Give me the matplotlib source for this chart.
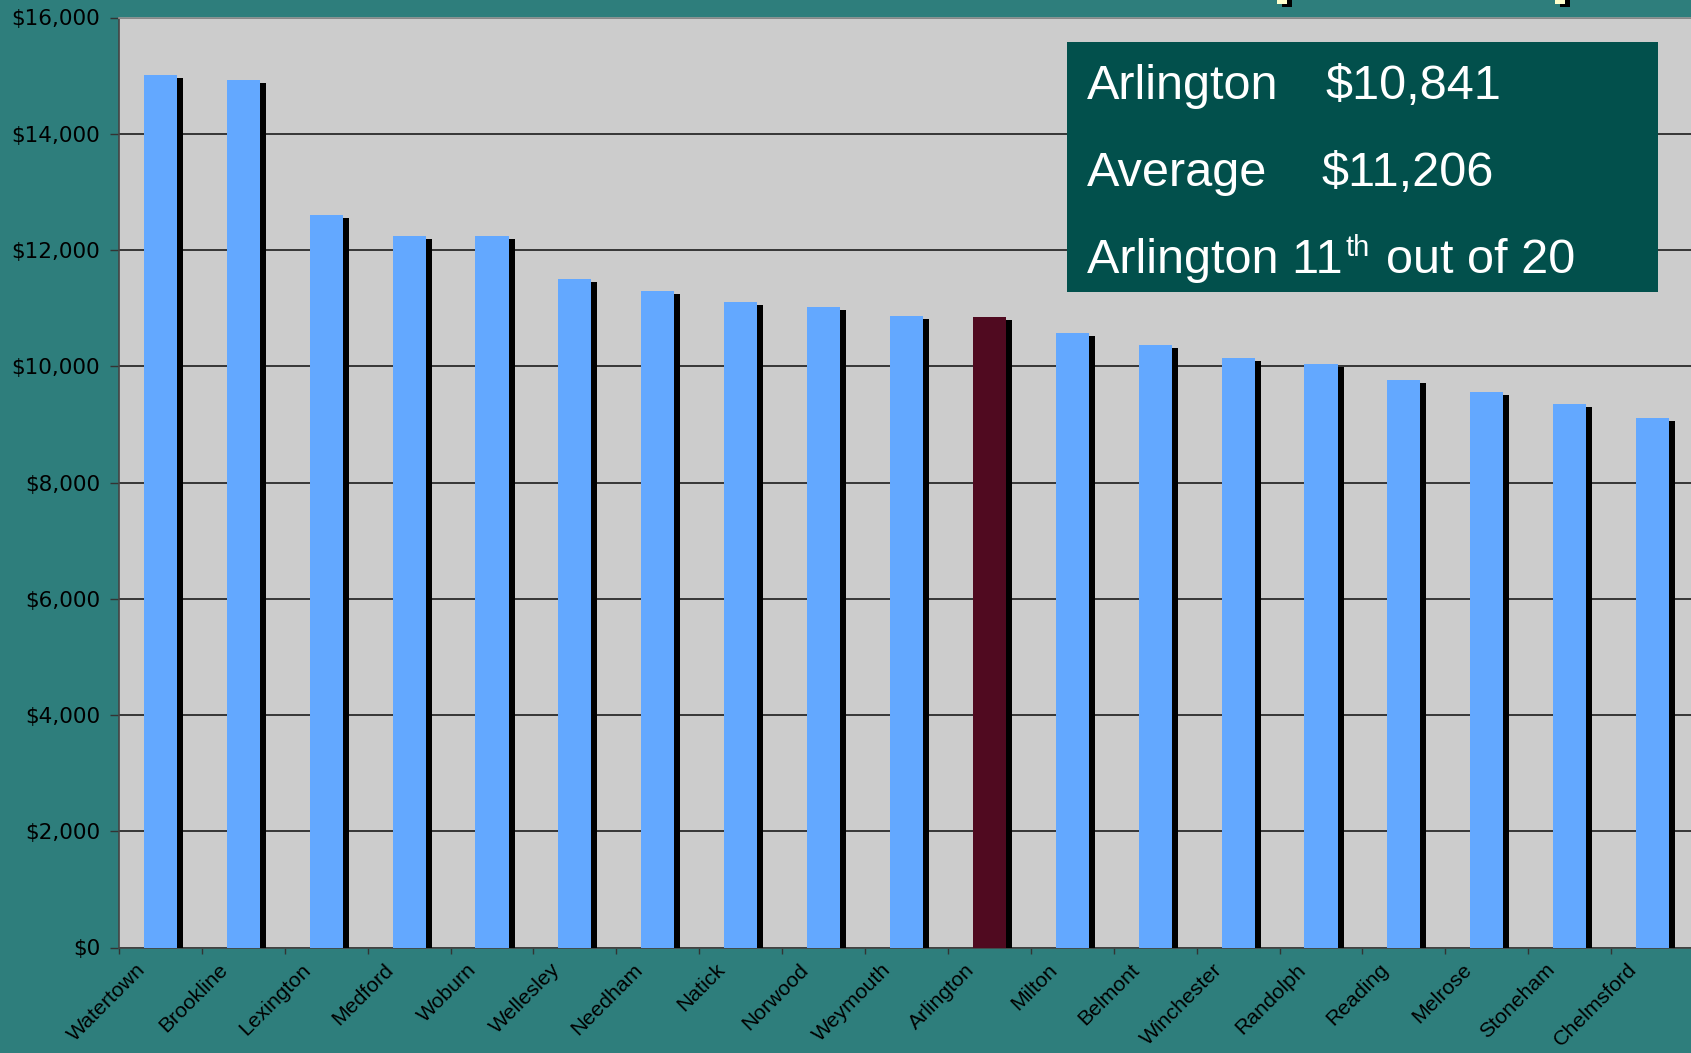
import numpy as np
import matplotlib
matplotlib.use("Agg")
import matplotlib.pyplot as plt
import matplotlib.patheffects as pe
from matplotlib.patches import Rectangle
from matplotlib.ticker import FuncFormatter, MultipleLocator

# ---- data ----
towns = ["Watertown", "Brookline", "Lexington", "Medford", "Woburn", "Wellesley",
         "Needham", "Natick", "Norwood", "Weymouth", "Arlington", "Milton",
         "Belmont", "Winchester", "Randolph", "Reading", "Melrose", "Stoneham",
         "Chelmsford"]
spending = [15010, 14920, 12600, 12240, 12240, 11500, 11290, 11100, 11016, 10860,
            10841, 10580, 10360, 10140, 10040, 9760, 9555, 9350, 9110]
highlight = "Arlington"
box_lines = [("Arlington", "$10,841"), ("Average", "$11,206")]
rank_text = ("Arlington 11", "th", "out of 20")

W, H = 1691, 1053
BG = "#2E7E7C"
PLOT_BG = "#CCCCCC"
BLUE = "#63A8FF"
DARK = "#500A20"
BOX = "#02504C"

fig = plt.figure(figsize=(W / 100, H / 100), dpi=100, facecolor=BG)

ax = fig.add_axes([119 / W, 105.5 / H, 1575 / W, 930 / H])
ax.set_facecolor(PLOT_BG)

x = np.arange(len(towns))
colors = [DARK if t == highlight else BLUE for t in towns]
bars = ax.bar(x, spending, width=0.4, color=colors, zorder=3, linewidth=0)
for b in bars:
    b.set_path_effects([pe.SimplePatchShadow(offset=(4.3, -2.2), shadow_rgbFace="black",
                                             alpha=1.0), pe.Normal()])

ax.set_xlim(-0.5, len(towns) - 0.5)
ax.set_ylim(0, 16000)
ax.yaxis.set_major_locator(MultipleLocator(2000))
ax.yaxis.set_major_formatter(FuncFormatter(lambda v, p: "${:,.0f}".format(v)))
ax.set_axisbelow(True)
ax.grid(axis="y", color="#2a2a2a", linewidth=1.3)
ax.grid(axis="x", visible=False)

ax.set_xticks(np.arange(-0.5, len(towns), 1.0))
ax.set_xticklabels([])
ax.tick_params(axis="x", direction="out", length=4.3, width=1, color="#333333")
ax.tick_params(axis="y", direction="out", length=6.5, width=1, color="#333333",
               pad=7, labelcolor="black")
for lab in ax.get_yticklabels():
    lab.set_fontfamily("DejaVu Sans")
    lab.set_fontsize(15.5)

for s in ["left", "bottom"]:
    ax.spines[s].set_color("#444444")
    ax.spines[s].set_linewidth(1.2)
ax.spines["top"].set_color("#999999")
ax.spines["top"].set_linewidth(1.2)
ax.spines["right"].set_visible(False)

for i, t in enumerate(towns):
    ax.annotate(t, xy=(i, 0), xycoords=("data", "axes fraction"),
                xytext=(-18, -9), textcoords="offset points",
                ha="right", va="top", rotation=45, rotation_mode="anchor",
                fontsize=15.3, family="Liberation Sans", color="black")

# ---- info box ----
fig.patches.append(Rectangle((1067 / W, (H - 292) / H), 591 / W, 250 / H,
                             transform=fig.transFigure, facecolor=BOX,
                             edgecolor="none", zorder=5))
tk = dict(color="white", family="Liberation Sans", fontsize=35, va="baseline",
          ha="left", zorder=6)
fig.text(1087 / W, (H - 99) / H, box_lines[0][0], **tk)
fig.text(1326 / W, (H - 99) / H, box_lines[0][1], **tk)
fig.text(1087 / W, (H - 186) / H, box_lines[1][0], **tk)
fig.text(1322 / W, (H - 186) / H, box_lines[1][1], **tk)
t1 = fig.text(1087 / W, (H - 273) / H, rank_text[0], **tk)
fig.canvas.draw()
r = fig.canvas.get_renderer()
e1 = t1.get_window_extent(renderer=r)
tk2 = dict(tk)
tk2["fontsize"] = 21
t2 = fig.text((e1.x1 + 3) / W, (H - 256) / H, rank_text[1], **tk2)
e2 = t2.get_window_extent(renderer=r)
fig.text((e2.x1 + 16) / W, (H - 273) / H, rank_text[2], **tk)

# small remnants of the slide title at the top edge
for x0 in (1277, 1555):
    fig.patches.append(Rectangle(((x0 + 5) / W, (H - 7) / H), 10 / W, 7 / H,
                                 transform=fig.transFigure, facecolor="black",
                                 edgecolor="none", zorder=4))
    fig.patches.append(Rectangle((x0 / W, (H - 4) / H), 10 / W, 4 / H,
                                 transform=fig.transFigure, facecolor="#FFFFCC",
                                 edgecolor="none", zorder=4))

fig.savefig("out.png", dpi=100, facecolor=BG)
